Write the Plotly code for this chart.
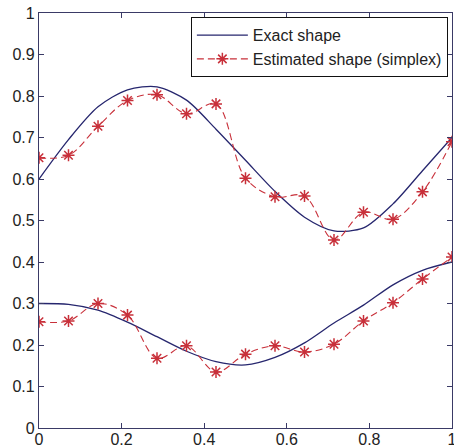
import plotly.graph_objects as go

# x positions of the samples (k/14)
x_pts = [k / 14 for k in range(15)]

# Exact shape (upper and lower curves)
exact_upper = [0.60, 0.695, 0.774, 0.815, 0.822, 0.79, 0.72, 0.645, 0.57, 0.508, 0.475, 0.482, 0.54, 0.62, 0.70]
exact_lower = [0.30, 0.298, 0.284, 0.255, 0.22, 0.185, 0.16, 0.152, 0.17, 0.205, 0.253, 0.296, 0.345, 0.38, 0.40]

# Estimated shape (simplex)
est_upper = [0.651, 0.657, 0.727, 0.789, 0.803, 0.757, 0.781, 0.602, 0.557, 0.559, 0.453, 0.520, 0.503, 0.569, 0.69]
est_lower = [0.256, 0.258, 0.300, 0.272, 0.168, 0.198, 0.135, 0.178, 0.198, 0.183, 0.202, 0.258, 0.302, 0.359, 0.412]

x_ticks = [0, 0.2, 0.4, 0.6, 0.8, 1]
x_tick_labels = ["0", "0.2", "0.4", "0.6", "0.8", "1"]
y_ticks = [0, 0.1, 0.2, 0.3, 0.4, 0.5, 0.6, 0.7, 0.8, 0.9, 1]
y_tick_labels = ["0", "0.1", "0.2", "0.3", "0.4", "0.5", "0.6", "0.7", "0.8", "0.9", "1"]

NAVY = "#26266e"
RED = "#c8303a"
AXIS = "#3a3a66"
FONT = "Liberation Sans, Arial, sans-serif"

fig = go.Figure()

fig.add_trace(go.Scatter(
    x=x_pts, y=exact_upper, mode="lines", name="Exact shape",
    line=dict(color=NAVY, width=1.3, shape="spline", smoothing=0.8),
    legendgroup="exact",
))
fig.add_trace(go.Scatter(
    x=x_pts, y=exact_lower, mode="lines", name="Exact shape",
    line=dict(color=NAVY, width=1.3, shape="spline", smoothing=0.8),
    legendgroup="exact", showlegend=False,
))

marker = dict(symbol="asterisk-open", size=10, color=RED, line=dict(color=RED, width=1.5))
fig.add_trace(go.Scatter(
    x=x_pts, y=est_upper, mode="lines+markers", name="Estimated shape (simplex)",
    line=dict(color=RED, width=1.1, dash="7px,4px", shape="spline", smoothing=1.0),
    marker=marker, legendgroup="est",
))
fig.add_trace(go.Scatter(
    x=x_pts, y=est_lower, mode="lines+markers", name="Estimated shape (simplex)",
    line=dict(color=RED, width=1.1, dash="7px,4px", shape="spline", smoothing=1.0),
    marker=marker, legendgroup="est", showlegend=False,
))

axis_common = dict(
    showgrid=False, zeroline=False, showline=True, linecolor=AXIS, linewidth=1.2,
    mirror="ticks", ticks="inside", ticklen=5, tickcolor=AXIS,
    tickfont=dict(family=FONT, size=16, color="#222222"),
    automargin=False, ticklabeloverflow="allow",
)

fig.update_layout(
    width=454, height=448,
    margin=dict(l=39, r=2, t=13, b=20),
    paper_bgcolor="white", plot_bgcolor="white",
    font=dict(family=FONT, size=16, color="#222222"),
    xaxis=dict(range=[0, 1], tickvals=x_ticks, ticktext=x_tick_labels,
               ticklabelstandoff=-3, **axis_common),
    yaxis=dict(range=[0, 1], tickvals=y_ticks, ticktext=y_tick_labels, **axis_common),
    legend=dict(
        x=0.99, y=0.99, xanchor="right", yanchor="top",
        bgcolor="white", bordercolor="#111111", borderwidth=1,
        font=dict(family=FONT, size=16, color="#222222"),
        tracegroupgap=0, itemwidth=51,
    ),
    showlegend=True,
)

fig.write_html(
    "out.html",
    config={"displayModeBar": False},
    post_script="document.body.style.margin='0';document.body.style.overflow='hidden';",
)
